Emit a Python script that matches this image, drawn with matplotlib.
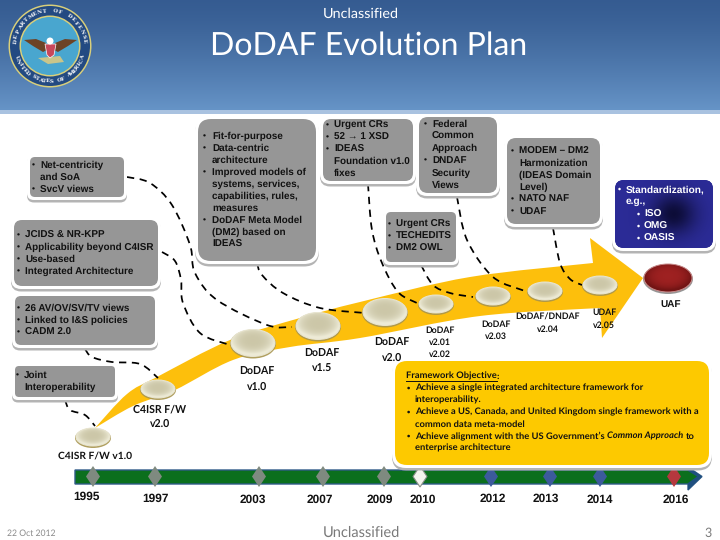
import numpy as np
import matplotlib
matplotlib.use("Agg")
import matplotlib.pyplot as plt
from matplotlib.patches import FancyBboxPatch, Ellipse, Polygon, PathPatch, Circle
from matplotlib.path import Path

plt.rcParams["text.hinting"] = "none"

# ---- content ----
years = ["1995", "1997", "2003", "2007", "2009", "2010", "2012", "2013", "2014", "2016"]
year_kinds = ["past", "past", "past", "past", "past", "now", "plan", "plan", "plan", "goal"]
version_labels = [["C4ISR F/W v1.0"], ["C4ISR F/W", "v2.0"], ["DoDAF", "v1.0"], ["DoDAF", "v1.5"], ["DoDAF", "v2.0"],
                  ["DoDAF", "v2.01", "v2.02"], ["DoDAF", "v2.03"], ["DoDAF/DNDAF", "v2.04"], ["UDAF", "v2.05"], ["UAF"]]
box_joint = [(1, "Joint"), (0, "Interoperability")]
box_av = [(1, "26 AV/OV/SV/TV views"), (1, "Linked to I&S policies"), (1, "CADM 2.0")]
box_jcids = [(1, "JCIDS & NR-KPP"), (1, "Applicability beyond C4ISR"), (1, "Use-based"), (1, "Integrated Architecture")]
box_net = [(1, "Net-centricity"), (0, "and SoA"), (1, "SvcV views")]
box_fit = [(1, "Fit-for-purpose"), (1, "Data-centric"), (0, "architecture"), (1, "Improved models of"),
           (0, "systems, services,"), (0, "capabilities, rules,"), (0, "measures"), (1, "DoDAF Meta Model"),
           (0, "(DM2) based on"), (0, "IDEAS")]
box_crs = [(1, "Urgent CRs"), (1, "52 \u2192 1 XSD"), (1, "IDEAS"), (0, "Foundation v1.0"), (0, "fixes")]
box_fed = [(1, "Federal"), (0, "Common"), (0, "Approach"), (1, "DNDAF"), (0, "Security"), (0, "Views")]
box_tech = [(1, "Urgent CRs"), (1, "TECHEDITS"), (1, "DM2 OWL")]
box_modem = [(1, "MODEM \u2013 DM2"), (0, "Harmonization"), (0, "(IDEAS Domain"), (0, "Level)"), (1, "NATO NAF"), (1, "UDAF")]
box_std = [(1, "Standardization,"), (0, "e.g.,"), (2, "ISO"), (2, "OMG"), (2, "OASIS")]
objective_head = "Framework Objective"
objective = [(1, "Achieve a single integrated architecture framework for"), (0, "interoperability."),
             (1, "Achieve a US, Canada, and United Kingdom single framework with a"), (0, "common data meta-model")]
objective_end = "enterprise architecture"
title = "DoDAF Evolution Plan"
banner = "Unclassified"
date = "22 Oct 2012"
page = "3"

# ---- layout (pixels) ----
SANS = "Liberation Sans"
CAL = "Lato"
fig = plt.figure(figsize=(7.2, 5.4), dpi=100)
ax = fig.add_axes([0, 0, 1, 1])
ax.set_xlim(0, 720); ax.set_ylim(540, 0); ax.axis("off")


def gradient(x0, y0, x1, y1, arr, z, clip=None):
    im = ax.imshow(arr, extent=(x0, x1, y1, y0), aspect="auto", zorder=z, interpolation="bilinear")
    if clip is not None:
        im.set_clip_path(clip)
    return im


def smooth(pts):
    """Catmull-Rom through the given points, as Bezier vertices and codes."""
    p = np.array(pts, float)
    p2 = np.vstack([p[0], p, p[-1]])
    verts, codes = [tuple(p[0])], [Path.MOVETO]
    for i in range(1, len(p2) - 2):
        c1 = p2[i] + (p2[i + 1] - p2[i - 1]) / 6
        c2 = p2[i + 1] - (p2[i + 2] - p2[i]) / 6
        verts += [tuple(c1), tuple(c2), tuple(p2[i + 1])]
        codes += [Path.CURVE4] * 3
    return verts, codes


# header
t = np.linspace(0, 1, 120)[:, None]
top = np.array([0.21, 0.36, 0.57]); bot = np.array([0.40, 0.58, 0.78])
gradient(0, 0, 720, 110, (top + (bot - top) * t[..., None] ** 1.3).reshape(120, 1, 3), 1)
ax.fill_between([0, 720], 110, 114, color="#a9c2e0", lw=0, zorder=1)

# seal
sx, sy = 50, 46
ax.add_patch(Circle((sx, sy), 41.5, fc="#d9cf7a", ec="none", zorder=2))
ax.add_patch(Circle((sx, sy), 40, fc="#234a82", ec="none", zorder=2))
ax.add_patch(Circle((sx, sy), 30.5, fc="#d9cf7a", ec="none", zorder=2))
ax.add_patch(Circle((sx, sy), 29, fc="#49a6cf", ec="none", zorder=2))
ax.add_patch(Polygon([(24, 40), (36, 39), (46, 43), (47, 50), (43, 52), (33, 46)], fc="#6d4326", ec="none", zorder=3))
ax.add_patch(Polygon([(77, 40), (65, 39), (55, 43), (54, 50), (58, 52), (68, 46)], fc="#6d4326", ec="none", zorder=3))
ax.add_patch(Polygon([(45, 44), (56, 44), (54, 55), (50, 58), (47, 55)], fc="#c8475a", ec="white", lw=0.5, zorder=4))
ax.add_patch(Circle((50, 41), 3.5, fc="white", ec="none", zorder=4))
ax.add_patch(Polygon([(38, 58), (60, 56), (64, 62), (48, 64)], fc="#c9c58a", ec="none", zorder=3))


def arc_text(s, r, a0, a1, flip=False):
    for ch, a in zip(s, np.linspace(a0, a1, len(s))):
        px, py = sx + r * np.cos(np.radians(a)), sy - r * np.sin(np.radians(a))
        rot = a - 90 if not flip else a + 90
        ax.text(px, py, ch, color="white", fontsize=3.9, family="DejaVu Serif", weight="bold",
                rotation=rot, ha="center", va="center", zorder=3)


arc_text("DEPARTMENT OF DEFENSE", 35, 172, 8)
arc_text("UNITED STATES OF AMERICA", 35, 200, 340, flip=True)

# header text
ax.text(361, 13.5, banner, color="white", fontsize=10.4, family=CAL, ha="center", va="center", zorder=5)
ax.text(368.5, 46, title, color="white", fontsize=23, family=CAL, ha="center", va="center", zorder=5)

# yellow arrow
upper = [(95, 428), (127, 394), (157, 377), (230, 340), (300, 318), (360, 302), (470, 277), (593, 263)]
lower = [(600, 308), (480, 316), (360, 338), (290, 347), (233, 360), (175, 390), (133, 406), (95, 428)]
uv, uc = smooth(upper)
lv, lc = smooth(lower)
head = [(590, 238), (643, 278), (602, 338)]
arrow_v = uv + head + lv
arrow_c = uc + [Path.LINETO] * 3 + [Path.LINETO] + lc[1:]
ax.add_patch(PathPatch(Path(arrow_v, arrow_c), fc="#fdbf0c", ec="none", zorder=3))

# dashed connectors
links = [
    [(127, 177), (150, 183), (172, 205), (190, 245), (195, 273), (217, 300), (267, 325), (292, 327)],
    [(162, 252), (175, 261), (181, 280), (183, 303), (200, 333), (230, 345)],
    [(257, 263), (262, 275), (283, 293), (320, 308), (365, 313)],
    [(85, 349), (92, 357), (112, 362), (140, 364), (158, 378)],
    [(65, 400), (70, 410), (85, 415), (95, 426)],
    [(368, 184), (372, 230), (382, 263), (398, 292), (417, 303)],
    [(421, 265), (433, 285), (450, 293), (473, 297)],
    [(457, 197), (467, 240), (493, 277), (525, 291)],
    [(553, 228), (560, 263), (570, 279), (582, 285)],
]
for pts in links:
    v, c = smooth(pts)
    ax.add_patch(PathPatch(Path(v, c), fc="none", ec="black", lw=1.25, ls=(0, (4.2, 3.2)), zorder=4))

# version ellipses
ell_x = [93, 158, 253, 318, 385, 436, 493, 545, 600, 668]
ell_y = [437, 389, 343, 326, 312, 304, 296, 291, 285, 278]
ell_rx = [17, 17, 22, 22, 22, 17, 17, 17, 17, 24]
ell_ry = [9, 9, 13.5, 13.5, 13.5, 9, 9, 9, 9, 14]
yy, xx = np.mgrid[-1:1:60j, -1:1:60j]
for i, (ex, ey, rx, ry) in enumerate(zip(ell_x, ell_y, ell_rx, ell_ry)):
    red = i == 9
    ax.add_patch(Ellipse((ex, ey + 1), 2 * rx + 2, 2 * ry + 2, fc="#a8954f" if not red else "#8a8a8a", ec="none", alpha=0.9, zorder=5))
    clip = Ellipse((ex, ey), 2 * rx, 2 * ry, fc="none", ec="none", zorder=6)
    ax.add_patch(clip)
    d = np.clip(np.sqrt(xx ** 2 + (yy + 0.15) ** 2), 0, 1)[..., None]
    c0 = np.array([0.80, 0.78, 0.66]) if not red else np.array([0.62, 0.13, 0.13])
    c1 = np.array([0.93, 0.92, 0.84]) if not red else np.array([0.45, 0.08, 0.08])
    gradient(ex - rx, ey - ry, ex + rx, ey + ry, c0 + (c1 - c0) * d ** 3, 6, clip)
    ax.add_patch(Ellipse((ex, ey), 2 * rx, 2 * ry, fc="none", ec="#e9e6d2" if not red else "#c98a8a", lw=0.7, zorder=6))

# version labels
lab_x = [95, 160, 257, 322, 392, 440, 496, 548, 604, 671]
lab_y = [456, 409, 372, 354, 343, 330, 324, 317, 312, 304]
lab_step = [0, 15, 15, 15, 15, 12, 12, 12, 13, 0]
lab_fs = [7.4, 7.6, 7.6, 7.6, 7.6, 6.3, 6.3, 6.3, 6.3, 7.2]
for i, lines in enumerate(version_labels):
    for j, s in enumerate(lines):
        ax.text(lab_x[i], lab_y[i] + j * lab_step[i], s, fontsize=lab_fs[i], weight="bold", ha="center", va="center",
                family=SANS if i == 9 else CAL, color="#111111", zorder=10)


def box(x0, y0, x1, y1, r, face, z=8):
    ax.add_patch(FancyBboxPatch((x0 - 3, y0 - 3 + 2.5), x1 - x0 + 6, y1 - y0 + 6, boxstyle=f"round,pad=0,rounding_size={r + 2}",
                                fc="#b4b4b4", ec="none", zorder=z))
    ax.add_patch(FancyBboxPatch((x0 - 3, y0 - 3), x1 - x0 + 6, y1 - y0 + 6, boxstyle=f"round,pad=0,rounding_size={r + 2}",
                                fc="white", ec="none", zorder=z))
    p = FancyBboxPatch((x0, y0), x1 - x0, y1 - y0, boxstyle=f"round,pad=0,rounding_size={r}", fc=face, ec="none", zorder=z)
    ax.add_patch(p)
    return p


def bullets(lines, bx, tx, y0, step, color="#111111", fs=7.1):
    for k, (lvl, s) in enumerate(lines):
        y = y0 + k * step
        if lvl:
            ax.text(bx + (19 if lvl == 2 else 0), y, "\u2022", fontsize=fs - 1, weight="bold", color=color, ha="left", va="center", family=SANS, zorder=9)
        ax.text(tx + (18 if lvl == 2 else 0), y, s, fontsize=fs, weight="bold", color=color, ha="left", va="center", family=SANS, zorder=9)


GRAY = "#969696"
box(30, 157, 124, 197, 5, GRAY);   bullets(box_net, 32, 40, 165, 12)
box(14, 220, 158, 286, 8, GRAY);   bullets(box_jcids, 17, 25, 235, 12)
box(15, 296, 155, 345, 6, GRAY);   bullets(box_av, 17, 25, 308.5, 12)
box(15, 366, 115, 397, 4, GRAY);   bullets(box_joint, 16, 24, 375.5, 12)
box(198, 119, 316, 261, 13, GRAY); bullets(box_fit, 203, 212, 136, 12)
box(323, 119, 413, 181, 8, GRAY);  bullets(box_crs, 326, 334, 125, 12)
box(419, 117, 497, 193, 9, GRAY);  bullets(box_fed, 424, 432, 124.5, 12.1)
box(386, 212, 456, 262, 5, GRAY);  bullets(box_tech, 388, 396, 224, 12)
box(507, 138, 600, 224, 9, GRAY);  bullets(box_modem, 511, 519, 151, 12)

# standardization box
pb = box(615, 180, 713, 248, 9, "#2c2c94")
yy, xx = np.mgrid[-1:1:60j, -1:1:80j]
g = np.exp(-(((xx - 0.2) / 0.45) ** 2 + (yy / 0.6) ** 2))[..., None]
gradient(615, 180, 713, 248, np.array([0.17, 0.17, 0.59]) + (np.array([0.05, 0.05, 0.22]) - np.array([0.17, 0.17, 0.59])) * g, 8.5, pb)
bullets(box_std, 618, 626, 189.5, 12.3, color="white", fs=7.3)

# objective box
box(395, 361, 709, 465, 12, "#fdc900")
FS = 6.72
hd = ax.text(406, 376, objective_head, fontsize=FS, weight="bold", family=CAL, color="#111111", ha="left", va="center", zorder=9)
fig.canvas.draw()
rn = fig.canvas.get_renderer()
inv = ax.transData.inverted()


def right_edge(tt):
    return inv.transform(tt.get_window_extent(rn))[1, 0]


hx = right_edge(hd)
ax.plot([406, hx], [381, 381], color="#111111", lw=0.7, zorder=9)
ax.text(hx, 376, ":", fontsize=FS, weight="bold", family=CAL, color="#111111", ha="left", va="center", zorder=9)
for k, (lvl, s) in enumerate(objective):
    y = 388 + 12 * k
    if lvl:
        ax.text(407, y, "\u2022", fontsize=FS, weight="bold", family=SANS, color="#111111", va="center", zorder=9)
    ax.text(415, y, s, fontsize=FS, weight="bold", family=CAL, color="#111111", va="center", zorder=9)
ax.text(407, 436, "\u2022", fontsize=FS, weight="bold", family=SANS, color="#111111", va="center", zorder=9)
a = ax.text(415, 436, "Achieve alignment with the US Government\u2019s", fontsize=FS, weight="bold", family=CAL, color="#111111", va="center", zorder=9)
b = ax.text(right_edge(a) + 2.5, 436, "Common Approach", fontsize=FS, weight="bold", style="italic", family=CAL, color="#111111", va="center", zorder=9)
ax.text(right_edge(b) + 2.5, 436, "to", fontsize=FS, weight="bold", family=CAL, color="#111111", va="center", zorder=9)
ax.text(415, 448, objective_end, fontsize=FS, weight="bold", family=CAL, color="#111111", va="center", zorder=9)

# timeline
ax.add_patch(Polygon([(75, 470), (688, 470), (688, 467), (702, 476.5), (688, 490), (688, 484), (75, 484)],
                     fc="#0b6f1d", ec="#2f5a88", lw=1.0, zorder=3))
ax.add_patch(Polygon([(688, 467), (702, 476.5), (688, 490)], fc="#1f4f80", ec="none", zorder=3))
ax.add_patch(Polygon([(688, 471), (697, 476.5), (688, 483)], fc="#0b6f1d", ec="none", zorder=3))
mark_x = [93, 155, 259, 323, 384, 420, 491, 550, 600, 674]
kind_col = {"past": "#7f8a80", "now": "#f4f4ee", "plan": "#3c5a9c", "goal": "#b5383e"}
for mx, kind in zip(mark_x, year_kinds):
    ax.add_patch(Polygon([(mx, 466), (mx + 7, 476.5), (mx, 487), (mx - 7, 476.5)], fc=kind_col[kind],
                         ec="#8a8f88" if kind == "now" else "none", lw=0.8, zorder=4))
year_x = [86, 155, 253, 320, 380, 423, 493, 546, 600, 676]
year_y = [497, 499, 500, 500, 500, 500, 499, 499, 500, 500]
for s, x, y in zip(years, year_x, year_y):
    ax.text(x, y, s, fontsize=8.6, weight="bold", family=SANS, color="#111111", ha="center", va="center", zorder=5)

# footer
ax.text(7, 533.5, date, fontsize=6.2, family=CAL, color="#8a8a8a", ha="left", va="center")
ax.text(361.5, 533, banner, fontsize=10.5, family=CAL, color="#7a7a7a", ha="center", va="center")
ax.text(708, 533, page, fontsize=9, family=CAL, color="#7a7a7a", ha="center", va="center")

ax.set_xlim(0, 720); ax.set_ylim(540, 0)
fig.savefig("out.png", dpi=100)
